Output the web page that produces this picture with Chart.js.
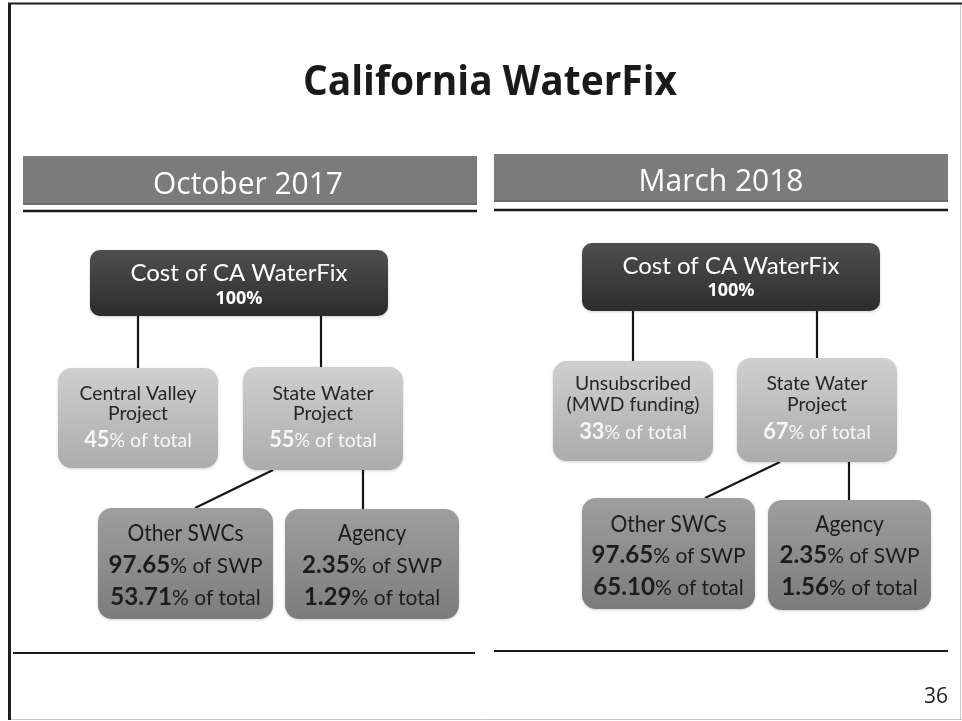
<!DOCTYPE html>
<html>
<head>
<meta charset="utf-8">
<title>California WaterFix</title>
<script src="https://cdn.jsdelivr.net/npm/chart.js@4.4.1/dist/chart.umd.min.js"></script>
<style>
  html, body { margin: 0; padding: 0; background: #fff; }
  canvas { display: block; }
</style>
</head>
<body>
<canvas id="slide" width="962" height="721" style="width:962px;height:721px"></canvas>
<script>
// Values
const slideTitle = 'California WaterFix';
const periods = ['October 2017', 'March 2018'];
const rootLabel = 'Cost of CA WaterFix';
const rootShare = [100, 100];
const firstSplitNames = [['Central Valley', 'Project'], ['Unsubscribed', '(MWD funding)']];
const firstSplitShare = [45, 33];
const swpName = ['State Water', 'Project'];
const swpShare = [55, 67];
const swpPartNames = ['Other SWCs', 'Agency'];
const otherOfSwp = [97.65, 97.65];
const otherOfTotal = [53.71, 65.10];
const agencyOfSwp = [2.35, 2.35];
const agencyOfTotal = [1.29, 1.56];
const pageNumber = '36';

// Layout of each panel, in slide units (x 0..962, y 0..721 from the top)
const panels = [
  {
    header: [23, 156, 477, 205], headerText: [248, 183], rule: [23, 477, 211], foot: [13, 475, 653],
    root: [90, 250, 388, 316], rootRows: [272, 298],
    split: [58, 368, 218, 468], swp: [243, 367, 403, 470], midRows: [393, 413, 440],
    other: [98, 508, 273, 619], agency: [285, 509, 459, 619], lowRows: [533, 565, 597],
    links: [[138, 316, 138, 368], [321, 316, 321, 367], [273, 470, 195, 508], [363, 470, 363, 509]]
  },
  {
    header: [494, 154, 948, 202], headerText: [721, 180], rule: [494, 948, 210], foot: [494, 948, 651],
    root: [582, 243, 880, 311], rootRows: [265, 290],
    split: [553, 361, 713, 461], swp: [737, 358, 897, 462], midRows: [383, 404, 432],
    other: [582, 498, 755, 609], agency: [768, 500, 931, 610], lowRows: [524, 555, 587],
    links: [[633, 311, 633, 361], [817, 311, 817, 358], [780, 462, 705, 498], [849, 462, 849, 500]]
  }
];

const gill = '"Lato", "Noto Sans", sans-serif';
const calibri = '"Open Sans", "Noto Sans", sans-serif';

// text roles: font size taken from the cap height, plus the width a sample line takes
const roles = {
  title:   { family: calibri, size: 41, runs: [[slideTitle, 700, 1]], width: 374 },
  header:  { family: calibri, size: 31, runs: [[periods[0], 400, 1]], width: 190 },
  page:    { family: calibri, size: 21, runs: [[pageNumber, 400, 1]], width: 24 },
  rootName:{ family: gill, size: 24, runs: [[rootLabel, 400, 1]], width: 245 },
  rootPct: { family: calibri, size: 18, runs: [['100%', 700, 1]], width: 53 },
  name:    { family: gill, size: 20, runs: [['Central Valley', 400, 1]], width: 117 },
  midPct:  { family: gill, size: 19.5, runs: [['45', 700, 1.12], ['% of total', 400, 1]], width: 117 },
  lowName: { family: gill, size: 23, runs: [['Other SWCs', 400, 1]], width: 116 },
  lowPct:  { family: gill, size: 21.5, runs: [['97.65', 700, 1.15], ['% of SWP', 400, 1]], width: 154 }
};

function runsWidth(ctx, family, runs, size) {
  let w = 0;
  runs.forEach(r => {
    ctx.font = r[1] + ' ' + (size * r[2]) + 'px ' + family;
    w += ctx.measureText(r[0]).width;
  });
  return w;
}

// squeeze each role horizontally toward the slide's narrower faces
function fitRoles(ctx) {
  Object.values(roles).forEach(role => {
    const w = runsWidth(ctx, role.family, role.runs, role.size);
    let sx = role.width / w;
    if (sx < 0.84) { role.size *= sx / 0.84; sx = 0.84; }
    if (sx > 1) { sx = 1; }
    role.sx = sx;
  });
}

// draw a line of mixed-weight runs centred on cx, visually centred on cy
function drawRuns(ctx, roleName, runs, cx, cy, color, align) {
  const role = roles[roleName];
  const size = role.size;
  const total = runsWidth(ctx, role.family, runs, size) * role.sx;
  let x = align === 'right' ? cx - total : cx - total / 2;
  const base = cy + size * 0.36;
  ctx.save();
  ctx.fillStyle = color;
  ctx.textAlign = 'left';
  ctx.textBaseline = 'alphabetic';
  ctx.translate(x, base);
  ctx.scale(role.sx, 1);
  let dx = 0;
  runs.forEach(r => {
    ctx.font = r[1] + ' ' + (size * r[2]) + 'px ' + role.family;
    ctx.fillText(r[0], dx, 0);
    dx += ctx.measureText(r[0]).width;
  });
  ctx.restore();
}

function roundRect(ctx, x0, y0, x1, y1, r) {
  ctx.beginPath();
  ctx.moveTo(x0 + r, y0);
  ctx.arcTo(x1, y0, x1, y1, r);
  ctx.arcTo(x1, y1, x0, y1, r);
  ctx.arcTo(x0, y1, x0, y0, r);
  ctx.arcTo(x0, y0, x1, y0, r);
  ctx.closePath();
}

const boxStyles = {
  root: { top: '#4f4f4f', bottom: '#2c2c2c', radius: 10 },
  mid:  { top: '#cfcfcf', bottom: '#acacac', radius: 14 },
  low:  { top: '#9e9e9e', bottom: '#7c7c7c', radius: 14 }
};

const slidePlugin = {
  id: 'slide',
  beforeDatasetsDraw(chart) {
    const ctx = chart.ctx;
    const X = v => chart.scales.x.getPixelForValue(v);
    const Y = v => chart.scales.y.getPixelForValue(v);
    if (!roles.title.sx) fitRoles(ctx);
    ctx.save();
    ctx.fillStyle = '#fff';
    ctx.fillRect(0, 0, chart.width, chart.height);

    // slide frame
    ctx.strokeStyle = '#c8c8c8';
    ctx.lineWidth = 1;
    ctx.beginPath();
    ctx.moveTo(X(9), Y(719.5)); ctx.lineTo(X(962), Y(719.5));
    ctx.moveTo(X(960.5), Y(3)); ctx.lineTo(X(960.5), Y(719));
    ctx.stroke();
    ctx.strokeStyle = '#1e1e1e';
    ctx.lineWidth = 2;
    ctx.beginPath();
    ctx.moveTo(X(8), Y(3.5)); ctx.lineTo(X(962), Y(3.5));
    ctx.stroke();
    ctx.lineWidth = 3;
    ctx.beginPath();
    ctx.moveTo(X(9.5), Y(3)); ctx.lineTo(X(9.5), Y(720));
    ctx.stroke();

    drawRuns(ctx, 'title', [[slideTitle, 700, 1]], X(490), Y(80), '#1a1a1a');

    panels.forEach((p, i) => {
      const h = p.header;
      ctx.fillStyle = '#7b7b7b';
      ctx.fillRect(X(h[0]), Y(h[1]), X(h[2]) - X(h[0]), Y(h[3]) - Y(h[1]));
      ctx.fillStyle = '#6c6c6c';
      ctx.fillRect(X(h[0]), Y(h[3]) - 2, X(h[2]) - X(h[0]), 2);
      drawRuns(ctx, 'header', [[periods[i], 400, 1]], X(p.headerText[0]), Y(p.headerText[1]), '#ffffff');

      ctx.strokeStyle = '#1a1a1a';
      ctx.lineWidth = 2.5;
      ctx.beginPath();
      ctx.moveTo(X(p.rule[0]), Y(p.rule[2])); ctx.lineTo(X(p.rule[1]), Y(p.rule[2]));
      ctx.stroke();
      ctx.lineWidth = 2;
      ctx.beginPath();
      ctx.moveTo(X(p.foot[0]), Y(p.foot[2])); ctx.lineTo(X(p.foot[1]), Y(p.foot[2]));
      ctx.stroke();
    });

    drawRuns(ctx, 'page', [[pageNumber, 400, 1]], X(948), Y(695), '#222', 'right');
    ctx.restore();
  },
  afterDatasetsDraw(chart) {
    const ctx = chart.ctx;
    const X = v => chart.scales.x.getPixelForValue(v);
    const Y = v => chart.scales.y.getPixelForValue(v);
    ctx.save();

    const box = (b, style) => {
      const s = boxStyles[style];
      const g = ctx.createLinearGradient(0, Y(b[1]), 0, Y(b[3]));
      g.addColorStop(0, s.top);
      g.addColorStop(1, s.bottom);
      ctx.shadowColor = 'rgba(0,0,0,0.18)';
      ctx.shadowBlur = 3;
      ctx.shadowOffsetY = 1;
      roundRect(ctx, X(b[0]), Y(b[1]), X(b[2]), Y(b[3]), s.radius);
      ctx.fillStyle = g;
      ctx.fill();
      ctx.shadowColor = 'transparent';
    };
    const mid = b => X((b[0] + b[2]) / 2);

    panels.forEach((p, i) => {
      // top node
      box(p.root, 'root');
      drawRuns(ctx, 'rootName', [[rootLabel, 400, 1]], mid(p.root), Y(p.rootRows[0]), '#ffffff');
      drawRuns(ctx, 'rootPct', [[rootShare[i] + '%', 700, 1]], mid(p.root), Y(p.rootRows[1]), '#ffffff');

      // first split
      const mids = [
        [p.split, firstSplitNames[i], firstSplitShare[i]],
        [p.swp, swpName, swpShare[i]]
      ];
      mids.forEach(m => {
        box(m[0], 'mid');
        drawRuns(ctx, 'name', [[m[1][0], 400, 1]], mid(m[0]), Y(p.midRows[0]), '#262626');
        drawRuns(ctx, 'name', [[m[1][1], 400, 1]], mid(m[0]), Y(p.midRows[1]), '#262626');
        drawRuns(ctx, 'midPct', [[String(m[2]), 700, 1.12], ['% of total', 400, 1]], mid(m[0]), Y(p.midRows[2]), '#f7f7f7');
      });

      // split of the State Water Project
      const lows = [
        [p.other, swpPartNames[0], otherOfSwp[i], otherOfTotal[i]],
        [p.agency, swpPartNames[1], agencyOfSwp[i], agencyOfTotal[i]]
      ];
      lows.forEach(l => {
        box(l[0], 'low');
        drawRuns(ctx, 'lowName', [[l[1], 400, 1]], mid(l[0]), Y(p.lowRows[0]), '#1c1c1c');
        drawRuns(ctx, 'lowPct', [[l[2].toFixed(2), 700, 1.15], ['% of SWP', 400, 1]], mid(l[0]), Y(p.lowRows[1]), '#1c1c1c');
        drawRuns(ctx, 'lowPct', [[l[3].toFixed(2), 700, 1.15], ['% of total', 400, 1]], mid(l[0]), Y(p.lowRows[2]), '#1c1c1c');
      });
    });
    ctx.restore();
  }
};

// connector lines between the nodes
const linkSets = [];
panels.forEach(p => {
  p.links.forEach(l => {
    linkSets.push({
      data: [{ x: l[0], y: l[1] }, { x: l[2], y: l[3] }],
      showLine: true,
      borderColor: '#161616',
      borderWidth: 2.2,
      pointRadius: 0,
      fill: false
    });
  });
});

new Chart(document.getElementById('slide').getContext('2d'), {
  type: 'scatter',
  data: { datasets: linkSets },
  options: {
    responsive: false,
    animation: false,
    events: [],
    layout: { padding: 0 },
    plugins: { legend: { display: false }, tooltip: { enabled: false }, title: { display: false } },
    scales: {
      x: { type: 'linear', min: 0, max: 962, display: false },
      y: { type: 'linear', min: 0, max: 721, reverse: true, display: false }
    }
  },
  plugins: [slidePlugin]
});
</script>
</body>
</html>
